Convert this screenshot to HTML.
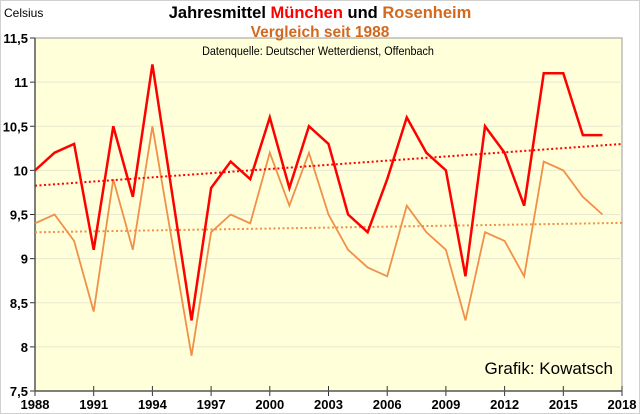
<!DOCTYPE html>
<html><head><meta charset="utf-8"><style>
body{margin:0;background:#fff;}
svg{display:block;font-family:"Liberation Sans",sans-serif;}
</style></head><body>
<svg id="c" width="640" height="414" viewBox="0 0 640 414">
<rect x="0.5" y="0.5" width="639" height="413" fill="#fff" stroke="#d0d0d0"/>
<rect x="35" y="38" width="587" height="353" fill="#ffffd9" stroke="#999"/>
<g id="grid"></g><g id="axes"></g><g id="series"></g>
<text x="4" y="17" font-size="12">Celsius</text>
<text x="320" y="18" font-size="16.5" font-weight="bold" text-anchor="middle">Jahresmittel <tspan fill="#ff0000">München</tspan> und <tspan fill="#d2691e">Rosenheim</tspan></text>
<text x="320" y="37" font-size="15.5" font-weight="bold" fill="#d2691e" text-anchor="middle">Vergleich seit 1988</text>
<text x="318" y="55" font-size="12" text-anchor="middle" transform="translate(318 0) scale(0.9 1) translate(-318 0)">Datenquelle: Deutscher Wetterdienst, Offenbach</text>
<text x="613" y="374" font-size="17" text-anchor="end">Grafik: Kowatsch</text>
</svg>
<script>
const years=[1988,1989,1990,1991,1992,1993,1994,1995,1996,1997,1998,1999,2000,2001,2002,2003,2004,2005,2006,2007,2008,2009,2010,2011,2012,2013,2014,2015,2016,2017];
const muenchen=[10.0,10.2,10.3,9.1,10.5,9.7,11.2,9.75,8.3,9.8,10.1,9.9,10.6,9.8,10.5,10.3,9.5,9.3,9.9,10.6,10.2,10.0,8.8,10.5,10.2,9.6,11.1,11.1,10.4,10.4];
const rosenheim=[9.4,9.5,9.2,8.4,9.9,9.1,10.5,9.2,7.9,9.3,9.5,9.4,10.2,9.6,10.2,9.5,9.1,8.9,8.8,9.6,9.3,9.1,8.3,9.3,9.2,8.8,10.1,10.0,9.7,9.5];
const yTicks=[7.5,8,8.5,9,9.5,10,10.5,11,11.5];
const xTicks=[1988,1991,1994,1997,2000,2003,2006,2009,2012,2015,2018];
const NS='http://www.w3.org/2000/svg';
const X=v=>35+(v-1988)*(587/30);
const Y=v=>391-(v-7.5)*(353/4);
function mk(t,a,p){const e=document.createElementNS(NS,t);for(const k in a)e.setAttribute(k,a[k]);p.appendChild(e);return e;}
const grid=document.getElementById('grid'),axes=document.getElementById('axes'),ser=document.getElementById('series');
yTicks.forEach(v=>{
 if(v>7.5&&v<11.5){const g=mk('line',{x1:35,x2:622,y1:Y(v),y2:Y(v),stroke:'#e8e8d0'},grid);
 
 }
 const tk=mk('line',{x1:30,x2:35,y1:Y(v),y2:Y(v),stroke:'#333'},axes);
 
 
 const t=mk('text',{x:28,y:Y(v)+5,'font-size':13,'font-weight':'bold','text-anchor':'end'},axes);
 t.textContent=String(v).replace('.',',');
 
 
});
xTicks.forEach(v=>{
 const tk=mk('line',{x1:X(v),x2:X(v),y1:386,y2:396,stroke:'#333'},axes);
 
 
 const t=mk('text',{x:X(v),y:409,'font-size':13,'font-weight':'bold','text-anchor':'middle'},axes);
 t.textContent=v;
 
 
});
const ax=mk('path',{d:`M35 38V391H622`,fill:'none',stroke:'#555','stroke-width':1.5},axes);


function trend(vals){const n=vals.length;let sx=0,sy=0,sxx=0,sxy=0;years.forEach((x,i)=>{sx+=x;sy+=vals[i];sxx+=x*x;sxy+=x*vals[i];});
 const b=(n*sxy-sx*sy)/(n*sxx-sx*sx),a=(sy-b*sx)/n;return x=>a+b*x;}
function draw(vals,color,w,name){
 const f=trend(vals);
 const tl=mk('line',{x1:X(1988),y1:Y(f(1988)),x2:X(2018),y2:Y(f(2018)),stroke:color,'stroke-width':2,'stroke-dasharray':'2 2.5'},ser);
 
 
 const p=mk('polyline',{points:years.map((y,i)=>X(y)+','+Y(vals[i])).join(' '),fill:'none',stroke:color,'stroke-width':w,'stroke-linejoin':'miter'},ser);
 
 
}
draw(rosenheim,'#f0904a',1.8,'rosenheim');
draw(muenchen,'#ff0000',2.5,'muenchen');
</script>
</body></html>
